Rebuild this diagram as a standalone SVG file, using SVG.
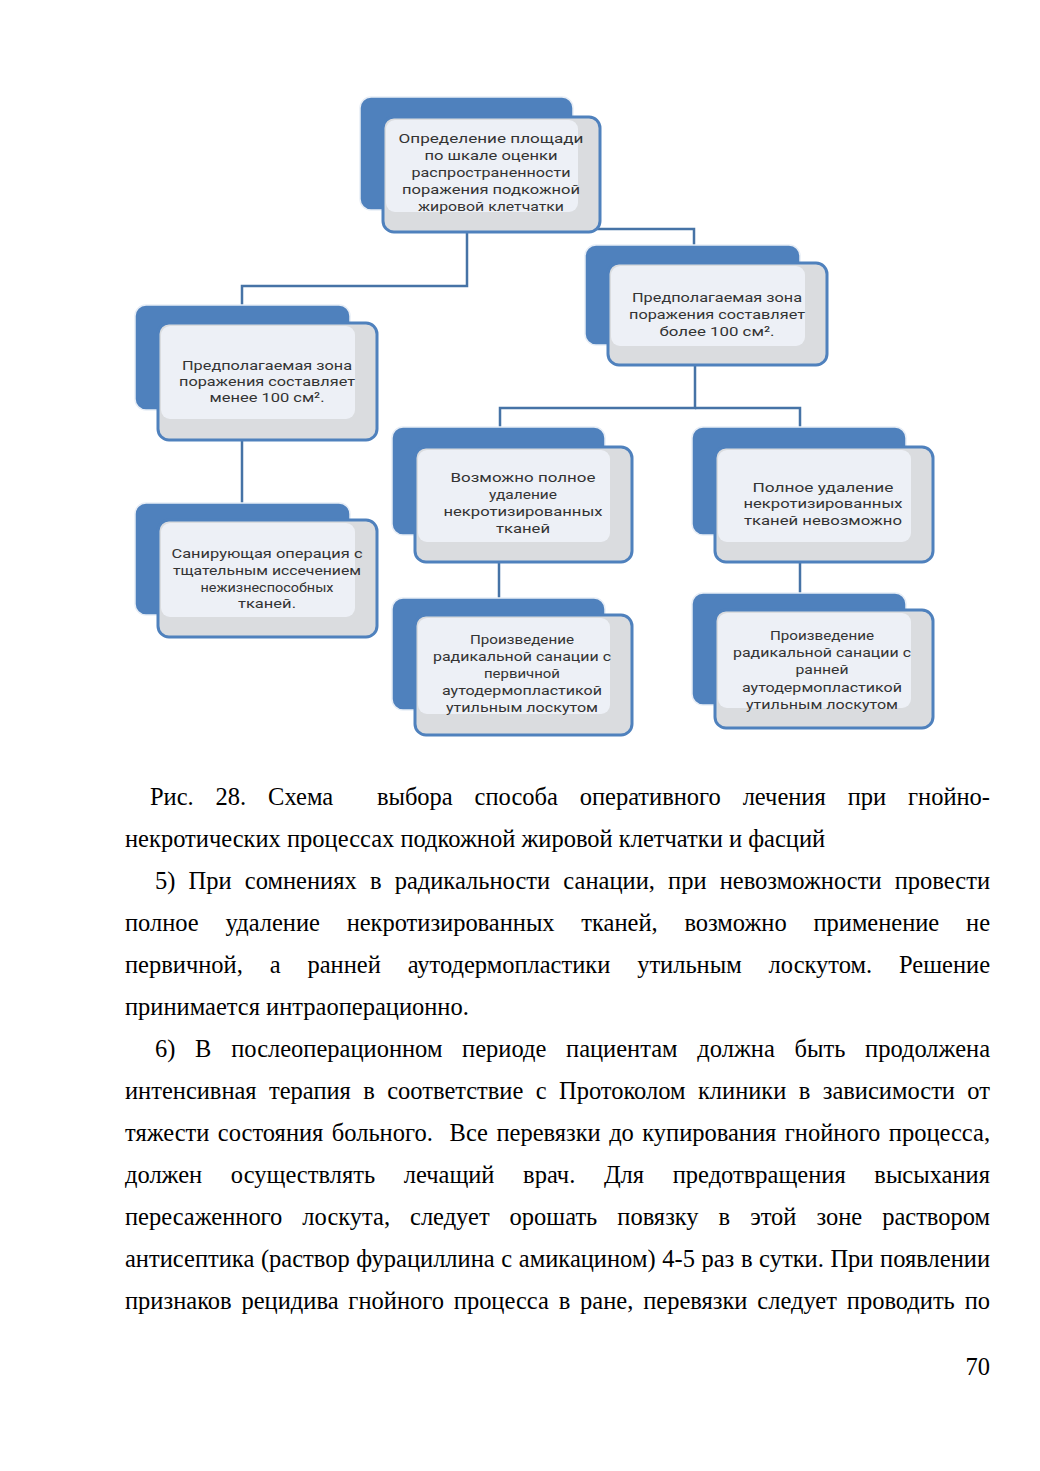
<svg xmlns="http://www.w3.org/2000/svg" width="1040" height="1471" viewBox="0 0 1040 1471">
<style>
.back{fill:#4f81bd;stroke:#e8eef6;stroke-width:1.5}
.front{fill:#dadcdf;stroke:#4f81bd;stroke-width:3}
.gloss{fill:#eef2f8;opacity:0.9}
.nt{font-family:Roboto,"Open Sans",sans-serif;font-size:13.5px;fill:#333;text-anchor:middle}
.conn{fill:none;stroke:#4673a6;stroke-width:2.5}
.body{font-family:"Liberation Serif","Times New Roman",serif;font-size:24.5px;fill:#000}
</style>
<rect width="1040" height="1471" fill="#fff"/>
<g id="connectors">
<path class="conn" d="M467,229 V286 H242 V305"/>
<path class="conn" d="M467,229 H694 V245"/>
<path class="conn" d="M242,440 V503"/>
<path class="conn" d="M695,365 V408 H500 V427"/>
<path class="conn" d="M695,408 H800 V427"/>
<path class="conn" d="M499,562 V598"/>
<path class="conn" d="M800,562 V593"/>
</g>
<g id="n-top">
<rect class="back" x="360" y="97" width="213" height="113" rx="11"/>
<rect class="front" x="383" y="117" width="217" height="115" rx="11"/>
<rect class="gloss" x="386" y="120" width="192" height="92" rx="9"/>
<text class="nt"><tspan x="491" y="143" textLength="185" lengthAdjust="spacingAndGlyphs">Определение площади</tspan><tspan x="491" y="160" textLength="133" lengthAdjust="spacingAndGlyphs">по шкале оценки</tspan><tspan x="491" y="177" textLength="159" lengthAdjust="spacingAndGlyphs">распространенности</tspan><tspan x="491" y="194" textLength="178" lengthAdjust="spacingAndGlyphs">поражения подкожной</tspan><tspan x="491" y="211" textLength="146" lengthAdjust="spacingAndGlyphs">жировой клетчатки</tspan></text>
</g>
<g id="n-left1">
<rect class="back" x="135" y="305" width="215" height="105" rx="11"/>
<rect class="front" x="158" y="323" width="219" height="117" rx="11"/>
<rect class="gloss" x="161" y="326" width="194" height="93" rx="9"/>
<text class="nt"><tspan x="267" y="370" textLength="170" lengthAdjust="spacingAndGlyphs">Предполагаемая зона</tspan><tspan x="267" y="386" textLength="176" lengthAdjust="spacingAndGlyphs">поражения составляет</tspan><tspan x="267" y="402" textLength="115" lengthAdjust="spacingAndGlyphs">менее 100 см².</tspan></text>
</g>
<g id="n-right1">
<rect class="back" x="585" y="245" width="215" height="100" rx="11"/>
<rect class="front" x="608" y="263" width="219" height="102" rx="11"/>
<rect class="gloss" x="611" y="266" width="194" height="80" rx="9"/>
<text class="nt"><tspan x="717" y="302" textLength="170" lengthAdjust="spacingAndGlyphs">Предполагаемая зона</tspan><tspan x="717" y="319" textLength="176" lengthAdjust="spacingAndGlyphs">поражения составляет</tspan><tspan x="717" y="336" textLength="115" lengthAdjust="spacingAndGlyphs">более 100 см².</tspan></text>
</g>
<g id="n-left2">
<rect class="back" x="135" y="503" width="215" height="112" rx="11"/>
<rect class="front" x="158" y="520" width="219" height="117" rx="11"/>
<rect class="gloss" x="161" y="523" width="194" height="94" rx="9"/>
<text class="nt"><tspan x="267" y="558" textLength="191" lengthAdjust="spacingAndGlyphs">Санирующая операция с</tspan><tspan x="267" y="575" textLength="188" lengthAdjust="spacingAndGlyphs">тщательным иссечением</tspan><tspan x="267" y="592" textLength="133" lengthAdjust="spacingAndGlyphs">нежизнеспособных</tspan><tspan x="267" y="608" textLength="58" lengthAdjust="spacingAndGlyphs">тканей.</tspan></text>
</g>
<g id="n-mid2">
<rect class="back" x="392" y="427" width="213" height="108" rx="11"/>
<rect class="front" x="415" y="447" width="217" height="115" rx="11"/>
<rect class="gloss" x="418" y="450" width="192" height="92" rx="9"/>
<text class="nt"><tspan x="523" y="482" textLength="145" lengthAdjust="spacingAndGlyphs">Возможно полное</tspan><tspan x="523" y="499" textLength="68" lengthAdjust="spacingAndGlyphs">удаление</tspan><tspan x="523" y="516" textLength="159" lengthAdjust="spacingAndGlyphs">некротизированных</tspan><tspan x="523" y="533" textLength="54" lengthAdjust="spacingAndGlyphs">тканей</tspan></text>
</g>
<g id="n-right2">
<rect class="back" x="692" y="427" width="214" height="108" rx="11"/>
<rect class="front" x="715" y="447" width="218" height="115" rx="11"/>
<rect class="gloss" x="718" y="450" width="193" height="92" rx="9"/>
<text class="nt"><tspan x="823" y="492" textLength="141" lengthAdjust="spacingAndGlyphs">Полное удаление</tspan><tspan x="823" y="508" textLength="159" lengthAdjust="spacingAndGlyphs">некротизированных</tspan><tspan x="823" y="525" textLength="158" lengthAdjust="spacingAndGlyphs">тканей невозможно</tspan></text>
</g>
<g id="n-mid3">
<rect class="back" x="392" y="598" width="213" height="112" rx="11"/>
<rect class="front" x="415" y="615" width="217" height="120" rx="11"/>
<rect class="gloss" x="418" y="618" width="192" height="96" rx="9"/>
<text class="nt"><tspan x="522" y="644" textLength="104" lengthAdjust="spacingAndGlyphs">Произведение</tspan><tspan x="522" y="661" textLength="178" lengthAdjust="spacingAndGlyphs">радикальной санации с</tspan><tspan x="522" y="678" textLength="76" lengthAdjust="spacingAndGlyphs">первичной</tspan><tspan x="522" y="695" textLength="160" lengthAdjust="spacingAndGlyphs">аутодермопластикой</tspan><tspan x="522" y="712" textLength="152" lengthAdjust="spacingAndGlyphs">утильным лоскутом</tspan></text>
</g>
<g id="n-right3">
<rect class="back" x="692" y="593" width="214" height="112" rx="11"/>
<rect class="front" x="715" y="610" width="218" height="118" rx="11"/>
<rect class="gloss" x="718" y="613" width="193" height="95" rx="9"/>
<text class="nt"><tspan x="822" y="640" textLength="104" lengthAdjust="spacingAndGlyphs">Произведение</tspan><tspan x="822" y="657" textLength="178" lengthAdjust="spacingAndGlyphs">радикальной санации с</tspan><tspan x="822" y="674" textLength="53" lengthAdjust="spacingAndGlyphs">ранней</tspan><tspan x="822" y="692" textLength="160" lengthAdjust="spacingAndGlyphs">аутодермопластикой</tspan><tspan x="822" y="709" textLength="152" lengthAdjust="spacingAndGlyphs">утильным лоскутом</tspan></text>
</g>
<g id="body-text" class="body">
<text x="150" y="805" xml:space="preserve" word-spacing="15.8" textLength="840" lengthAdjust="spacing">Рис. 28. Схема  выбора способа оперативного лечения при гнойно-</text>
<text x="125" y="847">некротических процессах подкожной жировой клетчатки и фасций</text>
<text x="155" y="889" word-spacing="7" textLength="835" lengthAdjust="spacing">5) При сомнениях в радикальности санации, при невозможности провести</text>
<text x="125" y="931" word-spacing="20.7" textLength="865" lengthAdjust="spacing">полное удаление некротизированных тканей, возможно применение не</text>
<text x="125" y="973" word-spacing="20.8" textLength="865" lengthAdjust="spacing">первичной, а ранней аутодермопластики утильным лоскутом. Решение</text>
<text x="125" y="1015">принимается интраоперационно.</text>
<text x="155" y="1057" word-spacing="13.6" textLength="835" lengthAdjust="spacing">6) В послеоперационном периоде пациентам должна быть продолжена</text>
<text x="125" y="1099" word-spacing="6.3" textLength="865" lengthAdjust="spacing">интенсивная терапия в соответствие с Протоколом клиники в зависимости от</text>
<text x="125" y="1141" xml:space="preserve" word-spacing="2.3" textLength="865" lengthAdjust="spacing">тяжести состояния больного.  Все перевязки до купирования гнойного процесса,</text>
<text x="125" y="1183" word-spacing="22.5" textLength="865" lengthAdjust="spacing">должен осуществлять лечащий врач. Для предотвращения высыхания</text>
<text x="125" y="1225" word-spacing="13.9" textLength="865" lengthAdjust="spacing">пересаженного лоскута, следует орошать повязку в этой зоне раствором</text>
<text x="125" y="1267" word-spacing="0.5" textLength="865" lengthAdjust="spacing">антисептика (раствор фурациллина с амикацином) 4-5 раз в сутки. При появлении</text>
<text x="125" y="1309" word-spacing="3.7" textLength="865" lengthAdjust="spacing">признаков рецидива гнойного процесса в ране, перевязки следует проводить по</text>
<text x="990" y="1375" text-anchor="end">70</text>
</g>
</svg>
